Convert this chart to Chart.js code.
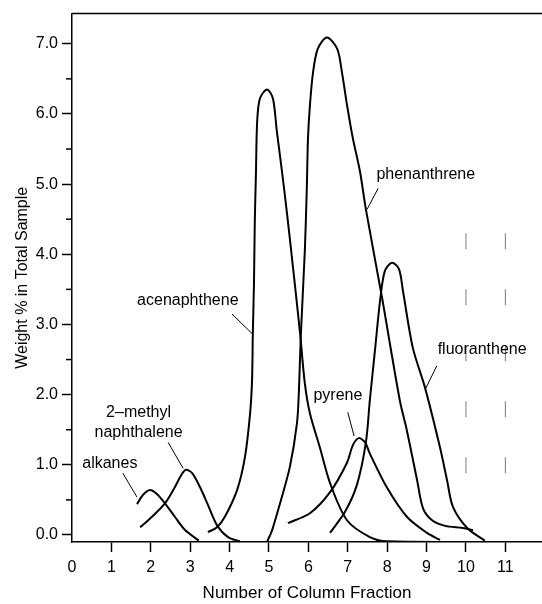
<!DOCTYPE html>
<html>
<head>
<meta charset="utf-8">
<script src="https://cdn.jsdelivr.net/npm/chart.js@4.4.1/dist/chart.umd.min.js"></script>
<style>
  html, body { margin: 0; padding: 0; background: #fff; }
  canvas { display: block; }
</style>
</head>
<body>
<canvas id="fractionChart" width="542" height="604"></canvas>
<script>
// column fraction number (x) vs weight % in total sample (y), one pair per compound
const alkanesX = [1.65, 1.80, 1.98, 2.16, 2.36, 2.61, 2.87, 3.22];
const alkanesY = [0.44, 0.57, 0.64, 0.58, 0.45, 0.26, 0.07, -0.08];

const methylNaphX = [1.73, 2.03, 2.36, 2.61, 2.77, 2.89, 3.05, 3.25, 3.45, 3.68, 3.96, 4.26];
const methylNaphY = [0.11, 0.26, 0.45, 0.68, 0.85, 0.93, 0.88, 0.68, 0.43, 0.14, -0.03, -0.09];

const acenaphX = [3.45, 3.68, 3.88, 4.19, 4.39, 4.52, 4.57, 4.59, 4.62, 4.64, 4.67, 4.70, 4.77, 4.95, 5.10, 5.20, 5.33, 5.46, 5.61, 5.79, 5.91, 6.04, 6.29, 6.55, 6.98, 7.56, 7.99, 9.97];
const acenaphY = [0.04, 0.11, 0.26, 0.64, 1.11, 1.73, 2.20, 2.87, 3.62, 4.47, 5.18, 5.89, 6.22, 6.35, 6.22, 5.75, 5.18, 4.57, 3.81, 2.87, 2.16, 1.73, 1.25, 0.74, 0.21, -0.03, -0.09, -0.10];

const phenanX = [4.95, 5.08, 5.28, 5.53, 5.71, 5.76, 5.81, 5.91, 5.96, 5.99, 6.04, 6.12, 6.24, 6.47, 6.73, 6.85, 6.98, 7.13, 7.31, 7.46, 7.87, 8.32, 8.50, 8.76, 8.91, 9.14, 9.47, 9.92, 10.18];
const phenanY = [-0.10, 0.07, 0.45, 0.97, 1.59, 2.06, 2.87, 4.05, 4.94, 5.65, 6.13, 6.60, 6.93, 7.09, 6.93, 6.60, 6.13, 5.65, 5.18, 4.64, 3.38, 1.92, 1.49, 0.78, 0.38, 0.21, 0.13, 0.10, 0.07];

const pyreneX = [5.48, 6.04, 6.55, 6.98, 7.13, 7.28, 7.44, 7.56, 7.99, 8.50, 9.01, 9.34];
const pyreneY = [0.17, 0.31, 0.61, 1.03, 1.28, 1.38, 1.32, 1.16, 0.68, 0.26, 0.03, -0.07];

const fluorX = [6.55, 6.93, 7.23, 7.46, 7.56, 7.69, 7.82, 7.94, 8.12, 8.30, 8.40, 8.65, 8.96, 9.34, 9.52, 9.67, 10.03, 10.48];
const fluorY = [0.03, 0.33, 0.71, 1.32, 1.92, 2.63, 3.34, 3.76, 3.88, 3.79, 3.48, 2.67, 2.10, 1.25, 0.78, 0.40, 0.10, -0.08];

// axis ticks
const xTicks = [0, 1, 2, 3, 4, 5, 6, 7, 8, 9, 10, 11];
const yTicks = [0, 1, 2, 3, 4, 5, 6, 7];
const yMinorTicks = [0.5, 1.5, 2.5, 3.5, 4.5, 5.5, 6.5];

// broken guide lines at fractions 10 and 11
const guideX = [10, 11];
const guideY = [0.88, 4.30];

// compound names with text anchor and leader line (data units)
const callouts = [
  { text: ['alkanes'], tx: 0.96, ty: 1.02, from: [1.29, 0.88], to: [1.65, 0.54] },
  { text: ['2–methyl', 'naphthalene'], tx: 1.69, ty: 1.75, from: [2.44, 1.32], to: [2.82, 0.95] },
  { text: ['acenaphthene'], tx: 2.94, ty: 3.34, from: [4.06, 3.15], to: [4.57, 2.87] },
  { text: ['phenanthrene'], tx: 8.98, ty: 5.14, from: [7.77, 4.94], to: [7.49, 4.64] },
  { text: ['pyrene'], tx: 6.75, ty: 1.99, from: [7.00, 1.75], to: [7.16, 1.41] },
  { text: ['fluoranthene'], tx: 10.41, ty: 2.64, from: [9.26, 2.41], to: [8.98, 2.09] }
];

const FONT = "'Liberation Sans', Arial, Helvetica, sans-serif";
const INK = '#000';

function toPoints(xs, ys) {
  return xs.map((x, i) => ({ x: x, y: ys[i] }));
}

function curve(xs, ys) {
  return {
    data: toPoints(xs, ys),
    borderColor: INK,
    borderWidth: 2,
    pointRadius: 0,
    fill: false,
    tension: 0.3
  };
}

const datasets = [
  curve(alkanesX, alkanesY),
  curve(methylNaphX, methylNaphY),
  curve(acenaphX, acenaphY),
  curve(phenanX, phenanY),
  curve(pyreneX, pyreneY),
  curve(fluorX, fluorY)
];

guideX.forEach(gx => {
  datasets.push({
    data: guideY.map(gy => ({ x: gx, y: gy })),
    borderColor: '#777',
    borderWidth: 1,
    borderDash: [16, 40],
    pointRadius: 0,
    fill: false
  });
});

// top frame line, minor y ticks, compound labels
const annotations = {
  id: 'annotations',
  afterDatasetsDraw(chart) {
    const { ctx, chartArea, scales } = chart;
    const x = scales.x, y = scales.y;
    ctx.save();
    ctx.strokeStyle = INK;
    ctx.lineWidth = 1.5;
    ctx.beginPath();
    ctx.moveTo(chartArea.left, chartArea.top);
    ctx.lineTo(chartArea.right, chartArea.top);
    ctx.stroke();

    yMinorTicks.forEach(v => {
      const py = y.getPixelForValue(v);
      ctx.beginPath();
      ctx.moveTo(chartArea.left - 6, py);
      ctx.lineTo(chartArea.left, py);
      ctx.stroke();
    });

    ctx.fillStyle = INK;
    ctx.font = '16px ' + FONT;
    ctx.textAlign = 'center';
    ctx.textBaseline = 'middle';
    ctx.lineWidth = 1;
    callouts.forEach(c => {
      const tx = x.getPixelForValue(c.tx);
      const ty = y.getPixelForValue(c.ty);
      c.text.forEach((line, i) => ctx.fillText(line, tx, ty + i * 20));
      ctx.beginPath();
      ctx.moveTo(x.getPixelForValue(c.from[0]), y.getPixelForValue(c.from[1]));
      ctx.lineTo(x.getPixelForValue(c.to[0]), y.getPixelForValue(c.to[1]));
      ctx.stroke();
    });
    ctx.restore();
  }
};

const chart = new Chart(document.getElementById('fractionChart'), {
  type: 'line',
  data: { datasets: datasets },
  options: {
    responsive: false,
    animation: false,
    events: [],
    layout: { padding: { top: 12, right: 0, left: 0, bottom: 0 } },
    plugins: { legend: { display: false }, tooltip: { enabled: false } },
    scales: {
      x: {
        type: 'linear',
        min: 0,
        max: 11.93,
        afterBuildTicks: s => { s.ticks = xTicks.map(v => ({ value: v })); },
        afterFit: s => { s.height = 62; },
        grid: {
          drawOnChartArea: false,
          tickLength: 10,
          tickWidth: 1.5,
          tickColor: c => (c.tick && c.tick.value === 0) ? 'rgba(0,0,0,0)' : INK
        },
        border: { display: true, color: INK, width: 1.5 },
        ticks: {
          color: INK,
          font: { family: FONT, size: 16 },
          padding: 6,
          maxRotation: 0,
          autoSkip: false,
          callback: v => String(v)
        },
        title: {
          display: true,
          text: 'Number of Column Fraction',
          color: INK,
          font: { family: FONT, size: 17 },
          padding: { top: 0, bottom: 0 }
        }
      },
      y: {
        type: 'linear',
        min: -0.1,
        max: 7.43,
        afterBuildTicks: s => { s.ticks = yTicks.map(v => ({ value: v })); },
        afterFit: s => { s.width = 72; },
        grid: { drawOnChartArea: false, tickLength: 10, tickWidth: 1.5, tickColor: INK },
        border: { display: true, color: INK, width: 1.5 },
        ticks: {
          color: INK,
          font: { family: FONT, size: 16 },
          padding: 4,
          callback: v => v.toFixed(1)
        },
        title: {
          display: true,
          text: 'Weight % in Total Sample',
          color: INK,
          font: { family: FONT, size: 16 },
          padding: { top: 13, bottom: 0 }
        }
      }
    }
  },
  plugins: [annotations]
});
</script>
</body>
</html>
